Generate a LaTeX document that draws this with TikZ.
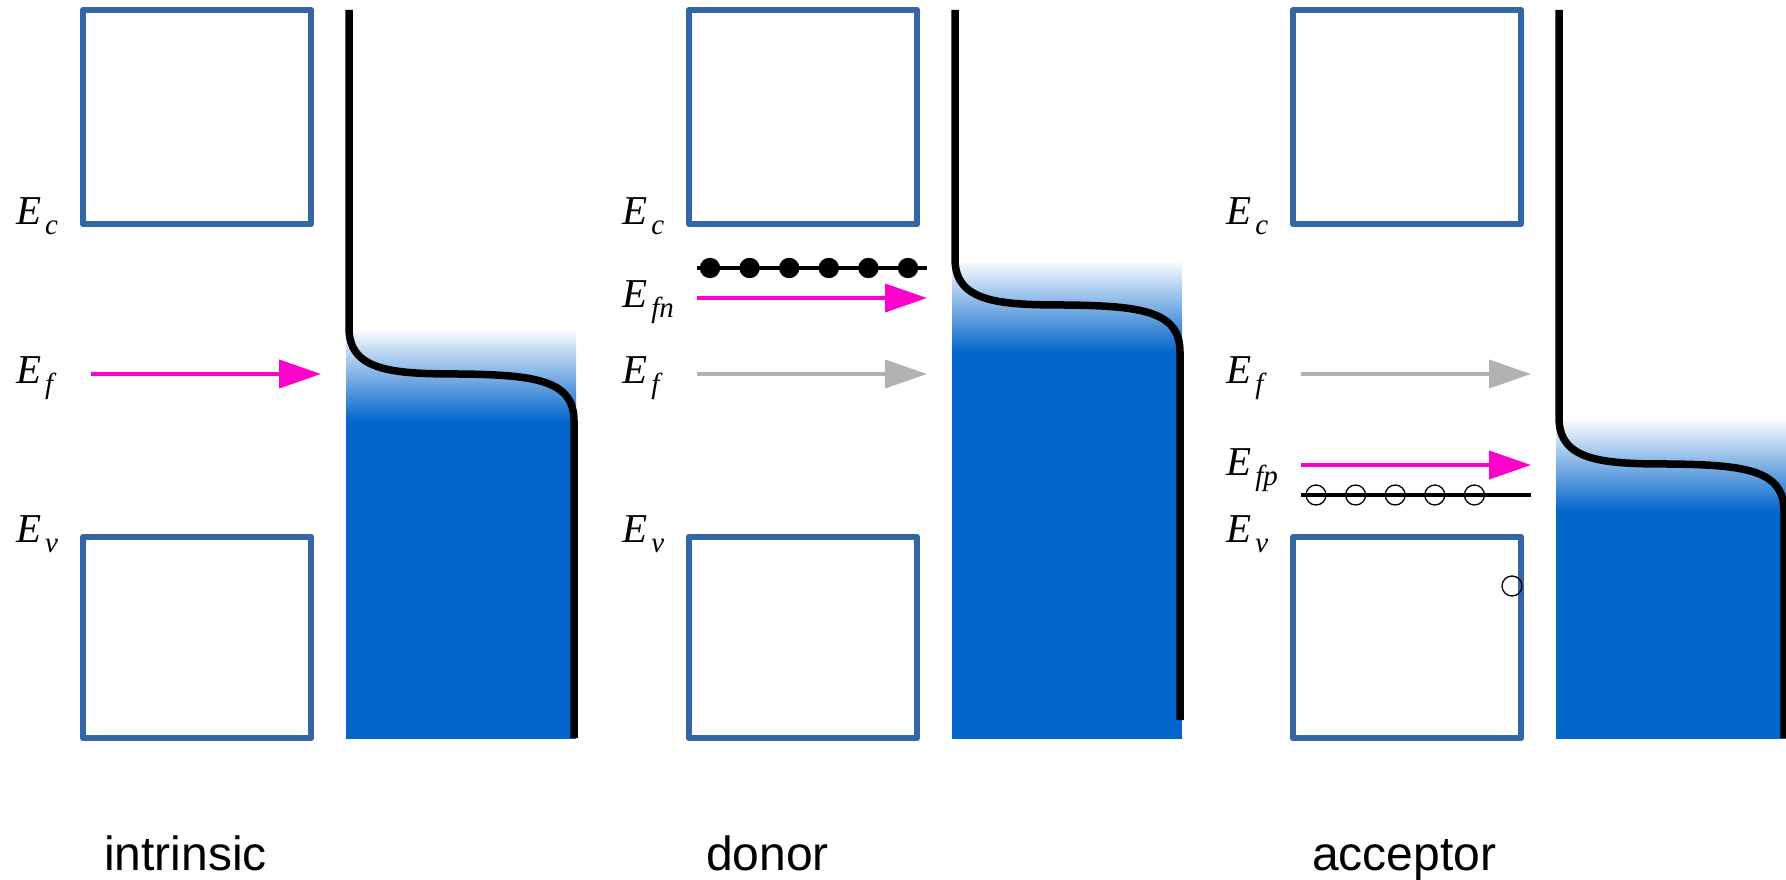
\documentclass[tikz,border=0pt]{standalone}
\usepackage{fontspec}
\setmainfont{Liberation Serif}
\newfontfamily\captionsans{Liberation Sans}
\usetikzlibrary{arrows.meta}
\definecolor{bandedge}{RGB}{52,101,164}
\definecolor{seablue}{RGB}{3,102,204}
\definecolor{fermimag}{RGB}{255,0,204}
\definecolor{levelgray}{RGB}{178,178,178}
\newcommand\subsz{\fontsize{29}{29}\selectfont}
% energy label: E with a lowered subscript
\newcommand\Elev[4]{\node[elab] (#4) at (#1,#2) {E\kern4pt\raisebox{-10pt}{\subsz #3}};}
% occupied states: shaded edge, solid body and the occupancy curve
\newcommand\fermiedge[3]{%
  \fill[seablue] (346,{#1+92}) rectangle (576,739);
  \shade[top color=white,bottom color=seablue] (346,#1) rectangle (576,{#1+93});
  \draw[occline] (349,10) -- (349,#1)
     .. controls (349,{#1+44}) and (395,{#1+46}) .. (461,{#1+46})
     .. controls (535,{#1+47}) and (574,{#1+52}) .. (574,{#1+93}) -- (574,#2);
  \coordinate (#3) at (349,#1);}
\tikzset{
  band/.style={draw=bandedge,line width=6.5pt,line join=round},
  occline/.style={draw=black,line width=7.5pt},
  elab/.style={anchor=base west,inner sep=0pt,font=\fontsize{41}{41}\selectfont\itshape},
  caption/.style={anchor=base west,inner sep=0pt,font=\captionsans\fontsize{48}{48}\selectfont},
  level/.style={draw=black,line width=3.5pt},
  fermi/.style={line width=4pt,-{Triangle[length=42pt,width=28pt]}},
}
\begin{document}
\begin{tikzpicture}[x=1pt,y=-1pt]
\useasboundingbox (0,0) rectangle (1786,880);

% ---------- intrinsic ----------
\draw[band] (83,10) rectangle (311,224);
\draw[band] (83,537) rectangle (311,738);
\fermiedge{328}{738}{i-knee}
\Elev{16}{224}{c}{i-ec}
\Elev{16}{383}{f}{i-ef}
\Elev{16}{542}{v}{i-ev}
\coordinate (i-fa) at (91,374); \coordinate (i-fb) at (321,374);
\draw[fermi,fermimag] (i-fa) -- (i-fb);
\node[caption] (i-cap) at (104,870) {intrinsic};

% ---------- donor ----------
\begin{scope}[xshift=606pt]
\draw[band] (83,10) rectangle (311,224);
\draw[band] (83,537) rectangle (311,738);
\fermiedge{259}{720}{d-knee}
\Elev{16}{224}{c}{d-ec}
\Elev{16}{307}{fn}{d-efn}
\Elev{16}{383}{f}{d-ef}
\Elev{16}{542}{v}{d-ev}
\coordinate (d-la) at (91,268); \coordinate (d-lb) at (321,268);
\draw[level] (d-la) -- (d-lb);
\foreach \k in {0,...,5} \fill ({104+39.6*\k},268) circle (10.2);
\coordinate (d-na) at (91,298); \coordinate (d-nb) at (321,298);
\draw[fermi,fermimag] (d-na) -- (d-nb);
\coordinate (d-fa) at (91,374); \coordinate (d-fb) at (321,374);
\draw[fermi,levelgray] (d-fa) -- (d-fb);
\node[caption] (d-cap) at (100,870) {donor};
\end{scope}

% ---------- acceptor ----------
\begin{scope}[xshift=1210pt]
\draw[band] (83,10) rectangle (311,224);
\draw[band] (83,537) rectangle (311,738);
\fermiedge{418}{738}{a-knee}
\Elev{16}{224}{c}{a-ec}
\Elev{16}{383}{f}{a-ef}
\Elev{16}{475}{fp}{a-efp}
\Elev{16}{542}{v}{a-ev}
\coordinate (a-fa) at (91,374); \coordinate (a-fb) at (321,374);
\draw[fermi,levelgray] (a-fa) -- (a-fb);
\coordinate (a-pa) at (91,465); \coordinate (a-pb) at (321,465);
\draw[fermi,fermimag] (a-pa) -- (a-pb);
\coordinate (a-la) at (91,495); \coordinate (a-lb) at (321,495);
\draw[level] (a-la) -- (a-lb);
\foreach \k in {0,...,4} \draw[line width=1.3pt] ({106+39.6*\k},495) circle (10);
\draw[line width=1.3pt] (302,586) circle (10);
\node[caption] (a-cap) at (102,870) {acceptor};
\end{scope}
\end{tikzpicture}
\end{document}
